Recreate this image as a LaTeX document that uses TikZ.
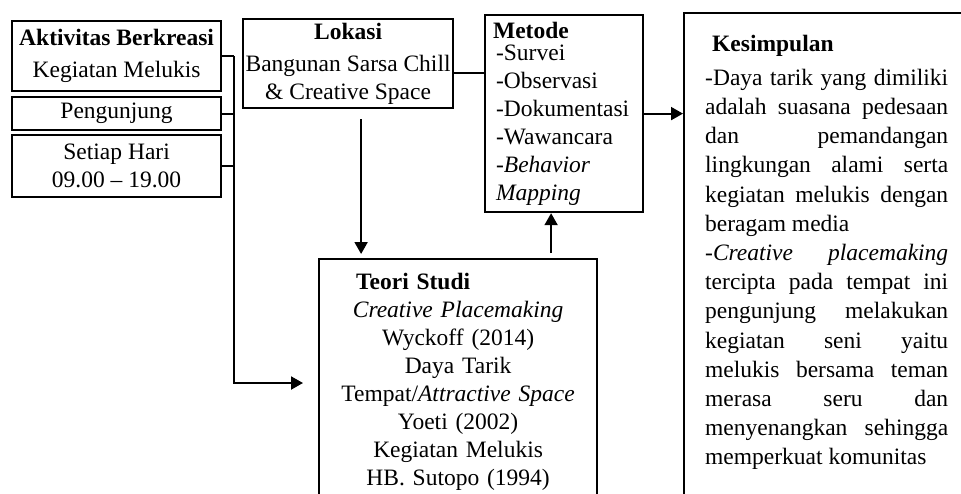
\documentclass[tikz,border=0pt]{standalone}
\usepackage{fontspec}
\setmainfont{Liberation Serif}
\usetikzlibrary{arrows.meta, positioning}

\tikzset{
  box/.style={draw, line width=2.2pt, inner sep=0pt, align=center,
    font=\fontsize{23.5}{28}\selectfont},
  conn/.style={line width=2pt},
  arr/.style={conn, -{Triangle[length=12pt, width=13pt]}}
}

\begin{document}
\begin{tikzpicture}[x=1pt, y=-1pt]
\clip (0,0) rectangle (961,493);
% kolom kiri
\node[box, anchor=north west, minimum width=209, minimum height=70] (aktivitas) at (11,20)
  {\textbf{Aktivitas Berkreasi}\\[4pt] Kegiatan Melukis};
\node[box, anchor=north west, minimum width=209, minimum height=33] (pengunjung) at (11,96) {Pengunjung};
\node[box, anchor=north west, minimum width=209, minimum height=62] (waktu) at (11,134)
  {Setiap Hari\\ 09.00 -- 19.00};
% lokasi dan metode
\node[box, anchor=north west, minimum width=210, minimum height=89] (lokasi) at (242,18)
  {\textbf{Lokasi}\\[4pt] Bangunan Sarsa Chill\\ \& Creative Space};
\node[box, anchor=north west, minimum width=158, minimum height=197, text width=142, align=left] (metode) at (484,14)
  {\textbf{Metode}\\[-6pt]
   \hspace*{3pt}-Survei\\ \hspace*{3pt}-Observasi\\ \hspace*{3pt}-Dokumentasi\\
   \hspace*{3pt}-Wawancara\\ \hspace*{3pt}-\textit{Behavior}\\ \hspace*{3pt}\textit{Mapping}};
% teori
\node[box, anchor=north west, minimum width=278, minimum height=246, text width=250] (teori) at (318,258)
  {\makebox[250pt][l]{\hspace*{23pt}\textbf{Teori Studi}}\\
   \textit{Creative Placemaking}\\ Wyckoff (2014)\\ Daya Tarik\\
   Tempat/\textit{Attractive Space}\\ Yoeti (2002)\\ Kegiatan Melukis\\ HB. Sutopo (1994)};
% kesimpulan
\node[box, anchor=north west, minimum width=320, minimum height=520] (kesimpulan) at (683,12) {};
\node[anchor=north west, inner sep=0pt, text width=243, align=justify,
  font=\fontsize{23.5}{29.2}\selectfont] (isi) at (705,35)
  {\tolerance=10000\relax \hyphenpenalty=10000\relax
   \hspace*{7pt}\textbf{Kesimpulan}\\[4.5pt]
   -Daya tarik yang dimiliki\linebreak
   adalah suasana pedesaan\linebreak
   dan pemandangan\linebreak
   lingkungan alami serta\linebreak
   kegiatan melukis dengan\linebreak
   beragam media\\
   -\textit{Creative placemaking}\linebreak
   tercipta pada tempat ini\linebreak
   pengunjung melakukan\linebreak
   kegiatan seni yaitu\linebreak
   melukis bersama teman\linebreak
   merasa seru dan\linebreak
   menyenangkan sehingga\linebreak
   memperkuat komunitas};
% penghubung
\draw[conn] (aktivitas.east) -- ++(12,0) coordinate (sudut);
\draw[conn] (pengunjung.east) -- (pengunjung.east -| sudut);
\draw[conn] (waktu.east) -- (waktu.east -| sudut);
\coordinate (ujung) at (303,383);
\draw[arr] (sudut) -- (sudut |- ujung) -- (ujung);
\draw[conn] ([yshift=-9pt]lokasi.east) -- ([yshift=-9pt]lokasi.east -| metode.west);
\draw[arr] (metode.east) -- (metode.east -| kesimpulan.west);
\coordinate (turun) at ([shift={(13,10)}]lokasi.south);
\draw[arr, shorten >=4pt] (turun) -- (turun |- teori.north);
\coordinate (naik) at ([shift={(93,-5)}]teori.north);
\draw[arr] (naik) -- (naik |- metode.south);
\end{tikzpicture}
\end{document}
